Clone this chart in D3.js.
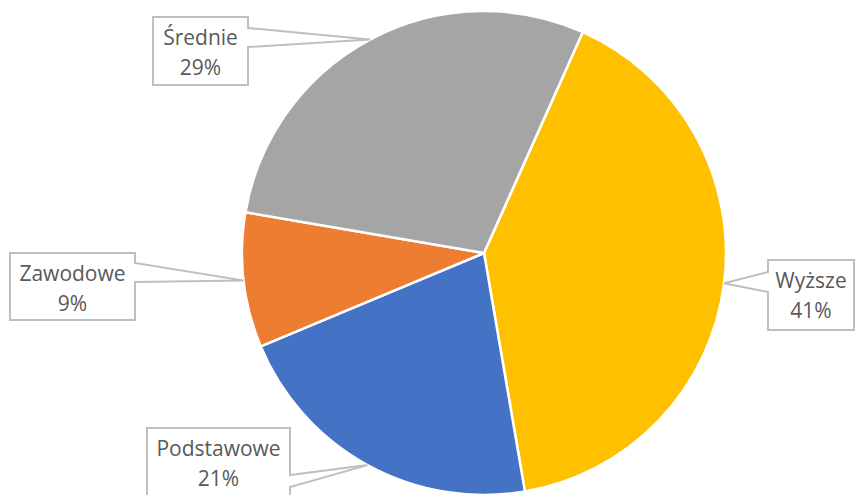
<!DOCTYPE html>
<html><head><meta charset="utf-8">
<script src="https://cdn.jsdelivr.net/npm/d3@7"></script>
<style>html,body{margin:0;padding:0;background:#fff;overflow:hidden}</style>
</head><body>
<svg id="chart" width="855" height="495"></svg>
<script>
const categories = ["Wyższe", "Podstawowe", "Zawodowe", "Średnie"];
const values = [40.6, 21.4, 9.0, 29.0];
const colors = ["#FFC000", "#4472C4", "#ED7D31", "#A5A5A5"];

// callout box layout: x0,y0,x1,y1, wedge side, wedge base y range
const boxes = [
  {x0: 768, y0: 260, x1: 854, y1: 330, side: "left", wy0: 272, wy1: 292},
  {x0: 147, y0: 428, x1: 290, y1: 500, side: "right", wy0: 475, wy1: 487},
  {x0: 10, y0: 253, x1: 135, y1: 320, side: "right", wy0: 263, wy1: 282},
  {x0: 153, y0: 17, x1: 248, y1: 85, side: "right", wy0: 28, wy1: 47}
];

const svg = d3.select("#chart");
const cx = 484, cy = 253, r = 242;
const start = 24.1 * Math.PI / 180;
const total = d3.sum(values);
const pie = d3.pie().sort(null).value(d => d).startAngle(start).endAngle(start + 2 * Math.PI);
const arcs = pie(values);
const arc = d3.arc().innerRadius(0).outerRadius(r);
const g = svg.append("g").attr("transform", `translate(${cx},${cy})`);
g.selectAll("path").data(arcs).join("path")
  .attr("d", arc).attr("fill", (d, i) => colors[i])
  .attr("stroke", "#fff").attr("stroke-width", 2.5).attr("stroke-linejoin", "round");

arcs.forEach((a, i) => {
  const mid = (a.startAngle + a.endAngle) / 2;
  const tx = cx + Math.sin(mid) * r, ty = cy - Math.cos(mid) * r;
  const b = boxes[i];
  let p;
  if (b.side === "right") {
    p = `M${b.x0},${b.y0}H${b.x1}V${b.wy0}L${tx},${ty}L${b.x1},${b.wy1}V${b.y1}H${b.x0}Z`;
  } else {
    p = `M${b.x0},${b.y0}H${b.x1}V${b.y1}H${b.x0}V${b.wy1}L${tx},${ty}L${b.x0},${b.wy0}Z`;
  }
  svg.append("path").attr("d", p).attr("fill", "#fff")
    .attr("stroke", "#BFBFBF").attr("stroke-width", 2).attr("stroke-linejoin", "miter");
  const mx = (b.x0 + b.x1) / 2;
  const t = svg.append("text").attr("x", mx).attr("text-anchor", "middle")
    .attr("font-family", "'Open Sans', sans-serif").attr("font-size", 21).attr("fill", "#595959");
  t.append("tspan").attr("x", mx).attr("y", b.y0 + 28).text(categories[i]);
  t.append("tspan").attr("x", mx).attr("y", b.y0 + 58).text(Math.round(values[i] / total * 100) + "%");
});
</script>
</body></html>
